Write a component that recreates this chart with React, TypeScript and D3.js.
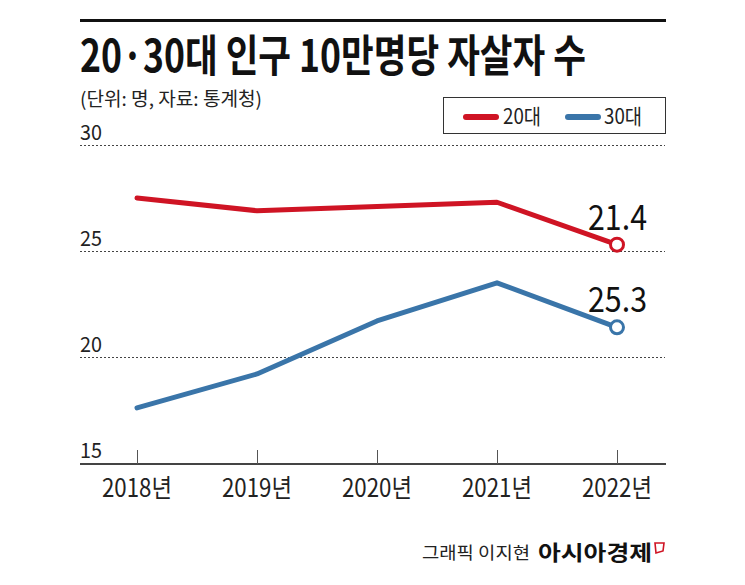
import React from "react";
import * as d3 from "d3";

const years = ["2018년", "2019년", "2020년", "2021년", "2022년"];
const series20 = [27.5, 26.9, 27.1, 27.3, 25.3];
const series30 = [17.6, 19.2, 21.7, 23.5, 21.4];
const endLabels20 = "21.4";
const endLabels30 = "25.3";
const yTicks = [15, 20, 25, 30];
const legendNames = ["20대", "30대"];

const RED = "#cf1424";
const BLUE = "#3a75a9";
const KR = "'Noto Sans CJK KR', 'Noto Sans', sans-serif";

export default function App() {
  const x = d3.scalePoint<string>().domain(years).range([137, 617]);
  const y = d3.scaleLinear().domain([15, 30]).range([463, 145]);
  const line = d3
    .line<number>()
    .x((_, i) => x(years[i]) as number)
    .y((d) => y(d));

  const lastX = x(years[years.length - 1]) as number;

  return (
    <svg
      width={745}
      height={585}
      style={{ position: "absolute", left: 0, top: 0, background: "#fff" }}
      fontFamily={KR}
    >
      <rect width={745} height={585} fill="#fff" />
      {/* top rule */}
      <line x1={80} x2={666} y1={20.5} y2={20.5} stroke="#111" strokeWidth={3} />
      {/* title */}
      <text
        x={80}
        y={72}
        fontSize={44}
        fontWeight={700}
        fill="#111"
        textLength={506}
        lengthAdjust="spacingAndGlyphs"
      >
        20·30대 인구 10만명당 자살자 수
      </text>
      <text
        x={80}
        y={106}
        fontSize={19}
        fill="#222"
        textLength={182}
        lengthAdjust="spacingAndGlyphs"
      >
        (단위: 명, 자료: 통계청)
      </text>

      {/* legend */}
      <rect x={443.5} y={97.5} width={222} height={36} fill="#fff" stroke="#333" strokeWidth={1} />
      <line x1={466} x2={496} y1={117} y2={117} stroke={RED} strokeWidth={6} strokeLinecap="round" />
      <text x={503} y={124} fontSize={21} fill="#222" textLength={38} lengthAdjust="spacingAndGlyphs">
        {legendNames[0]}
      </text>
      <line x1={568} x2={598} y1={117} y2={117} stroke={BLUE} strokeWidth={6} strokeLinecap="round" />
      <text x={604} y={124} fontSize={21} fill="#222" textLength={38} lengthAdjust="spacingAndGlyphs">
        {legendNames[1]}
      </text>

      {/* gridlines */}
      {yTicks
        .filter((t) => t !== 15)
        .map((t) => (
          <line
            key={t}
            x1={80}
            x2={665}
            y1={Math.round(y(t)) + 0.5}
            y2={Math.round(y(t)) + 0.5}
            stroke="#444"
            strokeWidth={1}
            strokeDasharray="2,2"
          />
        ))}
      {yTicks.map((t) => (
        <text
          key={"l" + t}
          x={80}
          y={y(t) - 5}
          fontSize={21}
          fill="#222"
          textLength={22}
          lengthAdjust="spacingAndGlyphs"
        >
          {t}
        </text>
      ))}

      {/* x axis */}
      <line x1={80} x2={666} y1={464} y2={464} stroke="#444" strokeWidth={2} />
      {years.map((yr) => (
        <g key={yr}>
          <line
            x1={(x(yr) as number) + 0.5}
            x2={(x(yr) as number) + 0.5}
            y1={450}
            y2={464}
            stroke="#555"
            strokeWidth={1}
          />
          <text
            x={x(yr) as number}
            y={497}
            fontSize={25}
            fill="#222"
            textAnchor="middle"
            textLength={70}
            lengthAdjust="spacingAndGlyphs"
          >
            {yr}
          </text>
        </g>
      ))}

      {/* lines */}
      <path d={line(series20) || ""} fill="none" stroke={RED} strokeWidth={5} strokeLinejoin="round" strokeLinecap="round" />
      <path d={line(series30) || ""} fill="none" stroke={BLUE} strokeWidth={5} strokeLinejoin="round" strokeLinecap="round" />
      <circle cx={lastX} cy={y(series20[4])} r={6.5} fill="#fff" stroke={RED} strokeWidth={3} />
      <circle cx={lastX} cy={y(series30[4])} r={6.5} fill="#fff" stroke={BLUE} strokeWidth={3} />

      <text
        x={588}
        y={y(series20[4]) - 15}
        fontSize={35}
        fill="#111"
        textLength={59}
        lengthAdjust="spacingAndGlyphs"
      >
        {endLabels20}
      </text>
      <text
        x={588}
        y={y(series30[4]) - 15}
        fontSize={35}
        fill="#111"
        textLength={59}
        lengthAdjust="spacingAndGlyphs"
      >
        {endLabels30}
      </text>

      {/* footer */}
      <text x={422} y={559} fontSize={17} fill="#222" textLength={108} lengthAdjust="spacingAndGlyphs">
        그래픽 이지현
      </text>
      <text x={538} y={560} fontSize={21} fontWeight={700} fill="#111" textLength={114} lengthAdjust="spacingAndGlyphs">
        아시아경제
      </text>
      <path d="M655,543 L664,543 L663,551 L656,553 Z" fill="none" stroke={RED} strokeWidth={1.6} />
    </svg>
  );
}
